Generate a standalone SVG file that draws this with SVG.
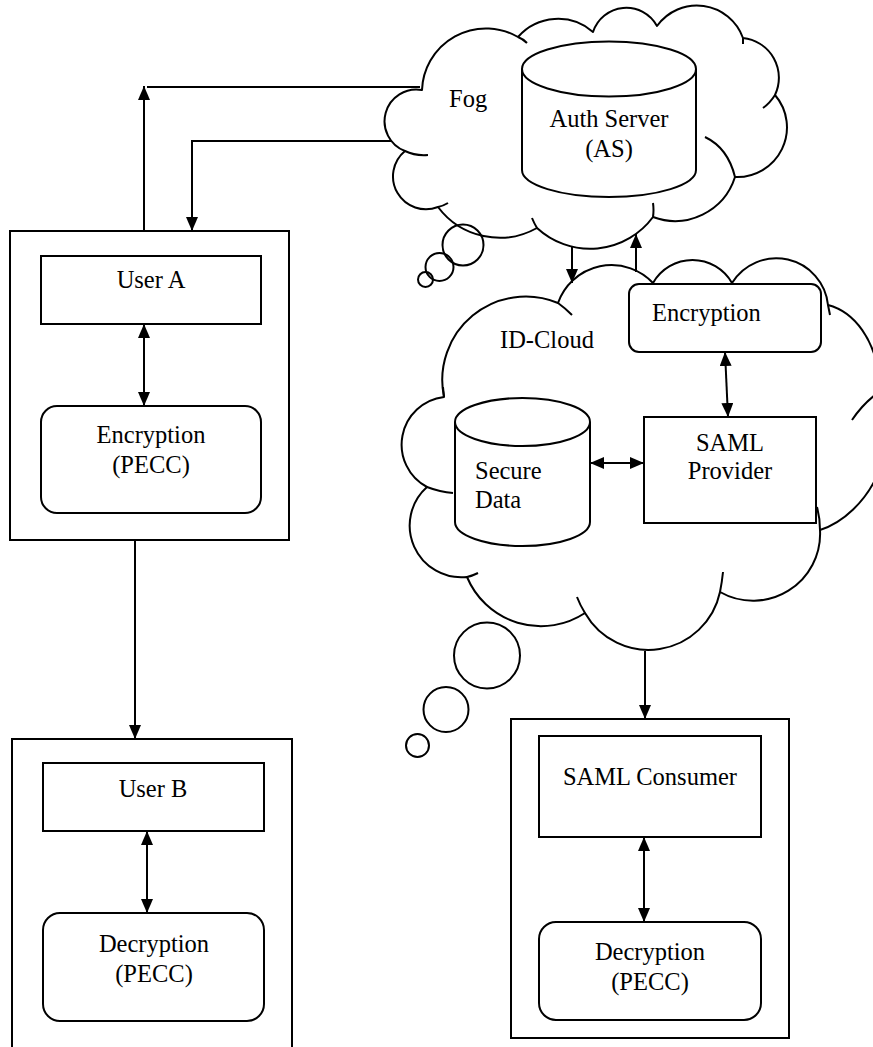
<svg xmlns="http://www.w3.org/2000/svg" width="873" height="1047" viewBox="0 0 873 1047">
<style>
.ln{fill:none;stroke:#000;stroke-width:2}
.bx{fill:#fff;stroke:#000;stroke-width:2}
.cl{fill:#fff;stroke:#000;stroke-width:2;stroke-linejoin:round}
.cr{fill:none;stroke:#000;stroke-width:2}
.t{font-family:"Liberation Serif","Times New Roman",serif;font-size:24.5px;fill:#000}
.c{text-anchor:middle}
</style>
<defs>
<marker id="ah" viewBox="0 0 14 12" refX="14" refY="6" markerWidth="14" markerHeight="12" markerUnits="userSpaceOnUse" orient="auto-start-reverse">
<path d="M0,0 L14,6 L0,12 Z" fill="#000"/>
</marker>
</defs>
<rect width="873" height="1047" fill="#fff"/>

<g id="fog-cloud">
<path class="cl" d="M422,90 A31.8,31.8 0 0 0 405,151 A32.9,32.9 0 0 0 438,207 A76.9,76.9 0 0 0 537,228 A78.2,78.2 0 0 0 653,217 A63,63 0 0 0 735,177 A49.7,49.7 0 0 0 775,95 A40,40 0 0 0 743,38 A49,49 0 0 0 657,26 A35,35 0 0 0 593,32 A53.2,53.2 0 0 0 518,37 A64,64 0 0 0 422,90 Z"/>
<path class="cr" d="M405,151 Q415,156 428,155 M438,207 Q443,206 448,203 M537,228 Q534,223 532,218 M653,217 Q654,210 653,203 M735,177 Q728,148 705,137 M775,95 Q770,103 763,108 M743,38 L743,44 M518,37 Q523,39 527,43"/>
<circle class="ln" cx="463" cy="245" r="20.5"/>
<circle class="ln" cx="439.5" cy="267" r="14"/>
<circle class="ln" cx="425.5" cy="279.5" r="7.5"/>
<text class="t" x="449" y="107">Fog</text>
</g>

<g id="auth-server">
<path class="bx" d="M522,69 A87,27.5 0 0 1 696,69 L696,170 A87,27 0 0 1 522,170 Z"/>
<path class="ln" d="M522,69 A87,27.5 0 0 0 696,69"/>
<text class="t c" x="609" y="127">Auth Server</text>
<text class="t c" x="609" y="157">(AS)</text>
</g>

<g id="id-cloud">
<path class="cl" d="M558,303 A83.5,83.5 0 0 0 444,397 A48,48 0 0 0 427,487 A51.7,51.7 0 0 0 467,577 A80.1,80.1 0 0 0 585,613 A73.1,73.1 0 0 0 720,592 A67,67 0 0 0 820,530 C845,522 865,500 875,480 L900,470 L900,420 L880,380 C875,340 855,312 828,305 A52,52 0 0 0 732,283 A45.4,45.4 0 0 0 653,283 A56.8,56.8 0 0 0 558,303 Z"/>
<path class="cr" d="M558,303 Q565,308 572,315 M444,397 L443,387 M427,487 Q440,492 453,493 M467,577 Q472,576 478,573 M585,613 Q580,605 577,597 M720,592 Q722,582 723,572 M820,530 Q820,518 817,507 M828,305 L830,315 M852,420 Q862,405 875,395"/>
<circle class="ln" cx="487" cy="655.5" r="33"/>
<circle class="ln" cx="446" cy="709.5" r="22.5"/>
<circle class="ln" cx="417.5" cy="745.5" r="11.5"/>
<text class="t" x="500" y="348">ID-Cloud</text>
</g>

<g id="cloud-encryption">
<rect class="bx" x="629" y="284" width="192" height="68" rx="10"/>
<text class="t" x="652" y="321">Encryption</text>
</g>

<g id="secure-data">
<path class="bx" d="M455,422 A67.5,24 0 0 1 590,422 L590,522 A67.5,24 0 0 1 455,522 Z"/>
<path class="ln" d="M455,422 A67.5,24 0 0 0 590,422"/>
<text class="t" x="475" y="479">Secure</text>
<text class="t" x="475" y="508">Data</text>
</g>

<g id="saml-provider">
<rect class="bx" x="644" y="417" width="172" height="106"/>
<text class="t c" x="730" y="451">SAML</text>
<text class="t c" x="730" y="479">Provider</text>
</g>

<g id="user-a-box">
<rect class="bx" x="10" y="231" width="279" height="309"/>
</g>
<g id="user-a">
<rect class="bx" x="41" y="256" width="220" height="68"/>
<text class="t c" x="151" y="288">User A</text>
</g>
<g id="encryption-pecc">
<rect class="bx" x="41" y="406" width="220" height="107" rx="16"/>
<text class="t c" x="151" y="443">Encryption</text>
<text class="t c" x="151" y="473">(PECC)</text>
</g>

<g id="user-b-box">
<rect class="bx" x="12" y="739" width="280" height="330"/>
</g>
<g id="user-b">
<rect class="bx" x="43" y="763" width="221" height="68"/>
<text class="t c" x="153" y="797">User B</text>
</g>
<g id="decryption-b">
<rect class="bx" x="43" y="913" width="221" height="108" rx="17"/>
<text class="t c" x="154" y="952">Decryption</text>
<text class="t c" x="154" y="982">(PECC)</text>
</g>

<g id="consumer-box">
<rect class="bx" x="511" y="719" width="278" height="319"/>
</g>
<g id="saml-consumer">
<rect class="bx" x="539" y="736" width="222" height="101"/>
<text class="t c" x="650" y="785">SAML Consumer</text>
</g>
<g id="decryption-c">
<rect class="bx" x="539" y="922" width="222" height="98" rx="17"/>
<text class="t c" x="650" y="960">Decryption</text>
<text class="t c" x="650" y="990">(PECC)</text>
</g>

<g id="connectors">
<path class="ln" d="M144,231 L144,86" marker-end="url(#ah)"/>
<path class="ln" d="M147,87 L420,87"/>
<path class="ln" d="M392,141 L192,141 L192,231" marker-end="url(#ah)"/>
<path class="ln" d="M135,540 L135,739" marker-end="url(#ah)"/>
<path class="ln" d="M144,324 L144,406" marker-start="url(#ah)" marker-end="url(#ah)"/>
<path class="ln" d="M147,831 L147,913" marker-start="url(#ah)" marker-end="url(#ah)"/>
<path class="ln" d="M644,837 L644,922" marker-start="url(#ah)" marker-end="url(#ah)"/>
<path class="ln" d="M645,651 L645,719" marker-end="url(#ah)"/>
<path class="ln" d="M572,247 L572,283" marker-end="url(#ah)"/>
<path class="ln" d="M636,272 L636,234" marker-end="url(#ah)"/>
<path class="ln" d="M725,352 L728,417" marker-start="url(#ah)" marker-end="url(#ah)"/>
<path class="ln" d="M590,463 L644,463" marker-start="url(#ah)" marker-end="url(#ah)"/>
</g>
</svg>
